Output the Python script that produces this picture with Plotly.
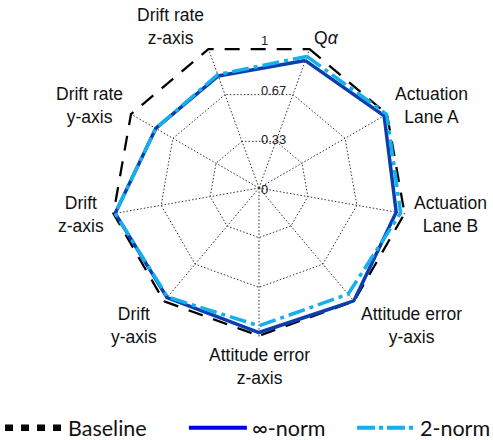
import math
import plotly.graph_objects as go

categories = ["Q<i>α</i>", "Actuation<br>Lane A", "Actuation<br>Lane B",
              "Attitude error<br>y-axis", "Attitude error<br>z-axis",
              "Drift<br>y-axis", "Drift<br>z-axis",
              "Drift rate<br>y-axis", "Drift rate<br>z-axis"]
baseline = [1.0, 1.0, 1.0, 1.0, 1.0, 1.0, 1.0, 1.0, 1.0]
inf_norm = [0.91, 0.97, 0.935, 0.99, 0.97, 0.96, 0.98, 0.80, 0.80]
two_norm = [0.94, 0.99, 0.965, 0.93, 0.925, 0.955, 0.98, 0.80, 0.81]
radial_ticks = [0, 0.333, 0.667, 1]
radial_ticktext = ["0", "0.33", "0.67", "1"]
series_names = ["Baseline", "∞-norm", "2-norm"]

ROTATION = 70  # angle (deg) of the first category; categories run clockwise

def closed(v):
    return list(v) + [v[0]]

theta = closed(categories)
fig = go.Figure()
fig.add_trace(go.Scatterpolar(r=closed(baseline), theta=theta, mode="lines",
                              line=dict(color="black", width=4.5, dash="15px,11px"),
                              showlegend=False))
fig.add_trace(go.Scatterpolar(r=closed(inf_norm), theta=theta, mode="lines",
                              line=dict(color="#0b3fae", width=3.5),
                              showlegend=False))
fig.add_trace(go.Scatterpolar(r=closed(two_norm), theta=theta, mode="lines",
                              line=dict(color="#12b0ee", width=3.5, dash="17px,5px,4px,5px"),
                              showlegend=False))
# legend entries
fig.add_trace(go.Scatterpolar(r=[None], theta=[categories[0]], mode="lines", name=series_names[0],
                              line=dict(color="black", width=6.5, dash="8px,8px"), legend="legend"))
fig.add_trace(go.Scatterpolar(r=[None], theta=[categories[0]], mode="lines", name=series_names[1],
                              line=dict(color="#0000f0", width=4), legend="legend2"))
fig.add_trace(go.Scatterpolar(r=[None], theta=[categories[0]], mode="lines", name=series_names[2],
                              line=dict(color="#12b0ee", width=4, dash="18px,4px,4px,4px"),
                              legend="legend3"))

rmax = radial_ticks[-1]
label_font = dict(family="Liberation Sans, Arial", size=17.5, color="#111")
annotations = []
# radial tick labels along the vertical line
for v, t in zip(radial_ticks, radial_ticktext):
    annotations.append(dict(x=0.5, y=0.5 + 0.5 * v / rmax, xref="paper", yref="paper",
                            text=t, showarrow=False, xanchor="left", yanchor="middle",
                            xshift=0, yshift=-1.5,
                            font=dict(family="Liberation Sans, Arial", size=13, color="#222")))
# category labels, centred text placed just outside each spoke
n = len(categories)
rho = 1.04
for k, cat in enumerate(categories):
    ang = math.radians(ROTATION - k * 360.0 / n)
    c, s = math.cos(ang), math.sin(ang)
    xa = "left" if c > 0.3 else ("right" if c < -0.3 else "center")
    ya = "bottom" if s > 0.8 else ("top" if s < -0.7 else "middle")
    ys = 0
    if ya == "bottom":
        ys = -8
    elif ya == "middle" and s > 0:
        ys = 5
    elif ya == "top" and abs(c) > 0.3:
        ys = 5
    annotations.append(dict(x=0.5 + 0.5 * rho * c, y=0.5 + 0.5 * rho * s,
                            xref="paper", yref="paper", text=cat, showarrow=False,
                            xanchor=xa, yanchor=ya, align="center", yshift=ys,
                            font=label_font))

leg_common = dict(orientation="h", y=-0.305, xanchor="left", yanchor="middle",
                  font=dict(family="Lato", size=21.5, color="#111"), itemwidth=58,
                  bgcolor="rgba(0,0,0,0)")

fig.update_layout(
    width=493, height=440,
    margin=dict(l=110, r=85, t=39, b=103, autoexpand=False),
    paper_bgcolor="white", plot_bgcolor="white",
    polar=dict(
        domain=dict(x=[0, 1], y=[0, 1]),
        gridshape="linear",
        bgcolor="white",
        radialaxis=dict(range=[0, rmax], tickvals=radial_ticks, showticklabels=False,
                        ticks="", showline=False, gridcolor="#333", griddash="1.5px,2px",
                        gridwidth=1),
        angularaxis=dict(rotation=ROTATION, direction="clockwise", showline=False, ticks="",
                         showticklabels=False,
                         gridcolor="#333", griddash="1.5px,2px", gridwidth=1),
    ),
    legend=dict(x=-0.369, **leg_common),
    legend2=dict(x=0.248, **leg_common),
    legend3=dict(x=0.812, **leg_common),
    annotations=annotations,
)
fig.write_html("out.html")
